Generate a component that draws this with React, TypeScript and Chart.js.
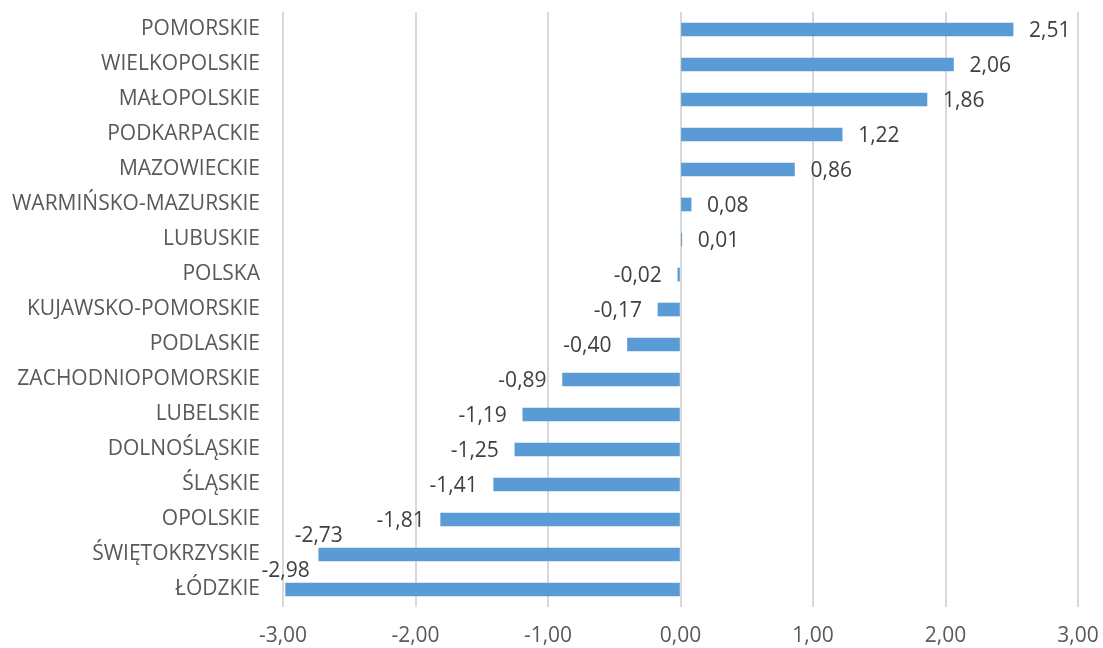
import React, { useEffect, useRef } from "react";
import { Chart, registerables } from "chart.js";

Chart.register(...registerables);

const categories = [
  "POMORSKIE",
  "WIELKOPOLSKIE",
  "MAŁOPOLSKIE",
  "PODKARPACKIE",
  "MAZOWIECKIE",
  "WARMIŃSKO-MAZURSKIE",
  "LUBUSKIE",
  "POLSKA",
  "KUJAWSKO-POMORSKIE",
  "PODLASKIE",
  "ZACHODNIOPOMORSKIE",
  "LUBELSKIE",
  "DOLNOŚLĄSKIE",
  "ŚLĄSKIE",
  "OPOLSKIE",
  "ŚWIĘTOKRZYSKIE",
  "ŁÓDZKIE",
];

const values = [
  2.51, 2.06, 1.86, 1.22, 0.86, 0.08, 0.01, -0.02, -0.17, -0.4, -0.89, -1.19,
  -1.25, -1.41, -1.81, -2.73, -2.98,
];

const xMin = -3;
const xMax = 3;

const FONT = "'Open Sans', 'DejaVu Sans', sans-serif";
const fmt = (v: number) => v.toFixed(2).replace(".", ",");

const labelPlugin = {
  id: "barLabels",
  afterDatasetsDraw(chart: any) {
    const ctx = chart.ctx;
    const meta = chart.getDatasetMeta(0);
    const area = chart.chartArea;
    ctx.save();
    ctx.font = `21px ${FONT}`;
    ctx.fillStyle = "#404040";
    meta.data.forEach((el: any, i: number) => {
      const v = values[i];
      const txt = fmt(v);
      const w = ctx.measureText(txt).width;
      ctx.textBaseline = "middle";
      if (v >= 0) {
        ctx.textAlign = "left";
        ctx.fillText(txt, el.x + 16, el.y + 2);
      } else if (el.x - 15 - w < area.left) {
        ctx.textAlign = "center";
        ctx.fillText(txt, el.x, el.y - 18);
      } else {
        ctx.textAlign = "right";
        ctx.fillText(txt, el.x - 16, el.y + 2);
      }
    });
    ctx.restore();
  },
};

export default function App() {
  const ref = useRef<HTMLCanvasElement>(null);
  useEffect(() => {
    document.body.style.margin = "0";
    const chart = new Chart(ref.current as HTMLCanvasElement, {
      type: "bar",
      data: {
        labels: categories,
        datasets: [
          {
            data: values,
            backgroundColor: "#5B9BD5",
            borderWidth: 0,
            barThickness: 13,
          },
        ],
      },
      options: {
        indexAxis: "y",
        animation: false,
        responsive: false,
        maintainAspectRatio: false,
        layout: { padding: 0 },
        plugins: {
          legend: { display: false },
          tooltip: { enabled: false },
        },
        scales: {
          x: {
            min: xMin,
            max: xMax,
            afterFit: (s: any) => {
              s.height = 41;
              s.paddingLeft = 0;
              s.paddingRight = 25;
            },
            ticks: {
              stepSize: 1,
              callback: (v: any) => fmt(Number(v)),
              font: { family: FONT, size: 21 },
              color: "#595959",
              padding: 16,
            },
            grid: {
              color: "#D9D9D9",
              lineWidth: 2,
              drawTicks: false,
            },
            border: { display: false },
          },
          y: {
            afterFit: (s: any) => {
              s.width = 283;
              s.paddingTop = 12;
              s.paddingBottom = 0;
            },
            ticks: {
              font: { family: FONT, size: 21 },
              color: "#595959",
              padding: 23,
              autoSkip: false,
            },
            grid: { display: false, drawTicks: false },
            border: { display: false },
          },
        },
      },
      plugins: [labelPlugin],
    } as any);
    return () => chart.destroy();
  }, []);
  return (
    <div style={{ width: 1103, height: 648 }}>
      <canvas ref={ref} width={1103} height={648} style={{ display: "block" }} />
    </div>
  );
}
